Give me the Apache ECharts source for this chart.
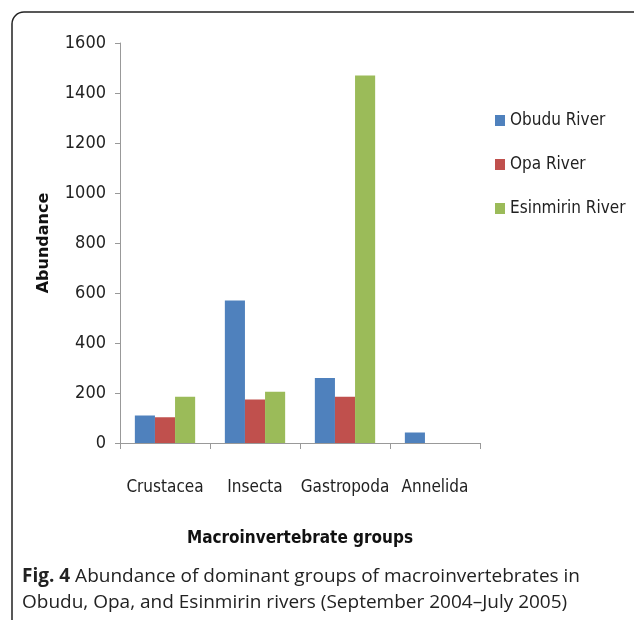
<!DOCTYPE html>
<html>
<head>
<meta charset="utf-8">
<script src="https://cdn.jsdelivr.net/npm/echarts@6/dist/echarts.min.js"></script>
<style>
  html, body { margin: 0; padding: 0; background: #fff; }
  #chart { width: 634px; height: 620px; }
</style>
</head>
<body>
<div id="chart"></div>
<script>
  // groups on the x axis
  const groups = ['Crustacea', 'Insecta', 'Gastropoda', 'Annelida']
  // abundance per river
  const obudu = [110, 570, 260, 42]
  const opa = [103, 174, 185, 0]
  const esinmirin = [185, 205, 1470, 0]
  const yTicks = [0, 200, 400, 600, 800, 1000, 1200, 1400, 1600]

  const narrow = '"DejaVu Sans Condensed", "Liberation Sans Narrow", sans-serif'
  const chart = echarts.init(document.getElementById('chart'))

  const option = {
    backgroundColor: '#fff',
    animation: false,
    grid: { left: 120, right: 154, top: 43, bottom: 177 },
    legend: {
      orient: 'vertical',
      left: 490,
      top: 107,
      itemGap: 27,
      itemWidth: 10,
      itemHeight: 11,
      icon: 'rect',
      textStyle: { fontFamily: narrow, fontSize: 17, color: '#222' },
      data: ['Obudu River', 'Opa River', 'Esinmirin River']
    },
    xAxis: {
      type: 'category',
      data: groups,
      name: 'Macroinvertebrate groups',
      nameLocation: 'middle',
      nameGap: 87,
      nameTextStyle: { fontFamily: narrow, fontSize: 17, fontWeight: 'bold', color: '#111' },
      axisLine: { lineStyle: { color: '#999' } },
      axisTick: { show: true, alignWithLabel: false, length: 6, lineStyle: { color: '#999' } },
      axisLabel: { interval: 0, fontFamily: narrow, fontSize: 17, color: '#222', margin: 36 }
    },
    yAxis: {
      type: 'value',
      min: 0,
      max: 1600,
      interval: 200,
      name: 'Abundance',
      nameLocation: 'middle',
      nameGap: 68,
      nameTextStyle: { fontFamily: '"DejaVu Sans", sans-serif', fontSize: 16, fontWeight: 'bold', color: '#111' },
      axisLine: { show: true, lineStyle: { color: '#999' } },
      axisTick: { show: true, length: 5, lineStyle: { color: '#999' } },
      splitLine: { show: false },
      axisLabel: {
        fontFamily: narrow, fontSize: 18, color: '#222', margin: 14,
        formatter: v => yTicks.includes(v) ? String(v) : ''
      }
    },
    series: [
      { name: 'Obudu River', type: 'bar', data: obudu, itemStyle: { color: '#4F81BD' }, barGap: '0%', barCategoryGap: '33%' },
      { name: 'Opa River', type: 'bar', data: opa, itemStyle: { color: '#C0504D' } },
      { name: 'Esinmirin River', type: 'bar', data: esinmirin, itemStyle: { color: '#9BBB59' } }
    ],
    graphic: [
      {
        type: 'rect',
        shape: { x: 12, y: 12, width: 640, height: 640, r: 12 },
        style: { fill: 'none', stroke: '#222', lineWidth: 1.5 },
        silent: true
      },
      {
        type: 'text',
        left: 22,
        top: 564,
        style: {
          text: '{b|Fig. 4} Abundance of dominant groups of macroinvertebrates in\nObudu, Opa, and Esinmirin rivers (September 2004\u2013July 2005)',
          fontFamily: '"Open Sans", sans-serif',
          fontSize: 19,
          lineHeight: 26,
          fill: '#222',
          rich: {
            b: { fontFamily: '"Open Sans", sans-serif', fontSize: 19, fontWeight: 'bold', fill: '#222' }
          }
        }
      }
    ]
  }
  chart.setOption(option)
</script>
</body>
</html>
